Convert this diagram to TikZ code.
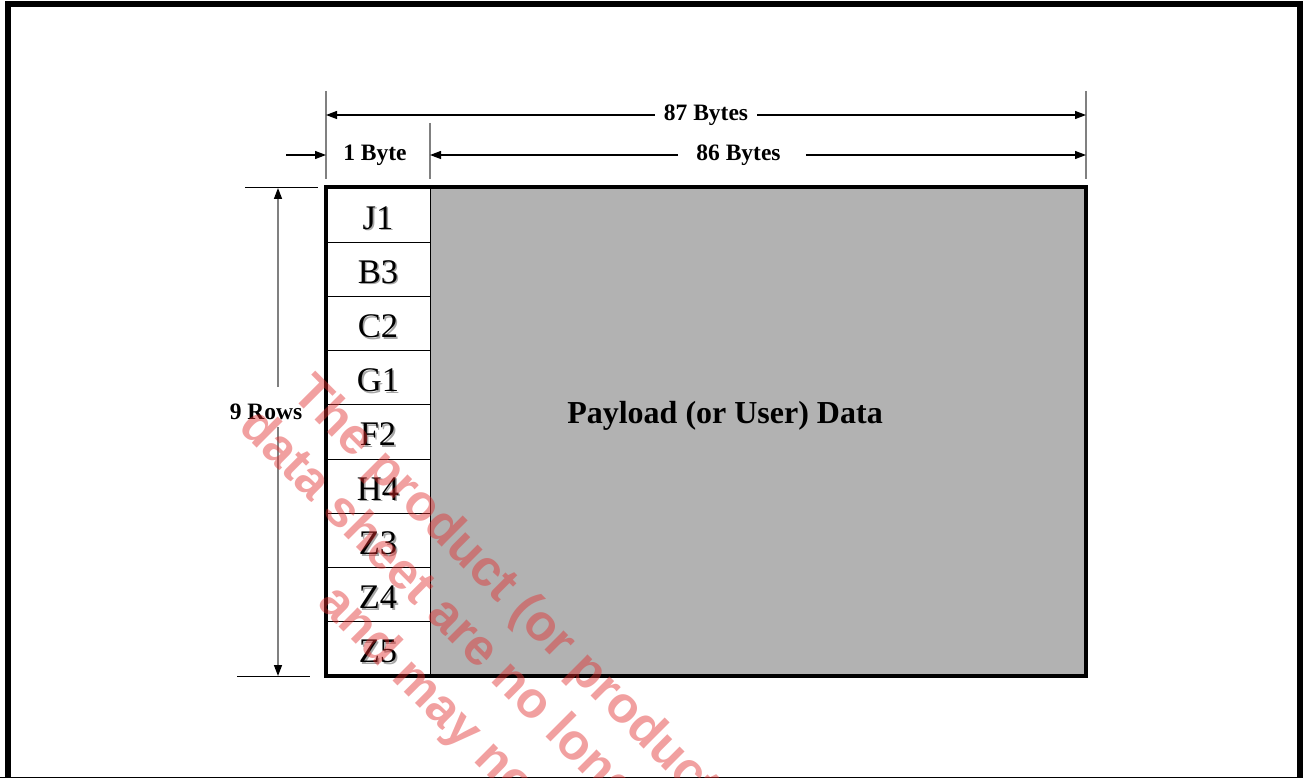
\documentclass[tikz,border=0pt]{standalone}
\usepackage{fontspec}
\setmainfont{Liberation Serif}
\newfontfamily\wmfont{Liberation Sans}
\usetikzlibrary{arrows.meta}
\definecolor{payloadgray}{RGB}{178,178,178}
\definecolor{extgray}{RGB}{128,128,128}
\definecolor{wmred}{RGB}{225,45,45}
\newcommand\shadowtxt[1]{\makebox[0pt][l]{\hspace*{1.6pt}\raisebox{-1.6pt}{\color{black!35}#1}}#1}
\begin{document}
\begin{tikzpicture}[x=1pt,y=-1pt,
  dimarrow/.style={line width=1.2pt,-{Triangle[length=11pt,width=8pt]}},
  vdimarrow/.style={extgray,line width=1.5pt,-{Triangle[length=11pt,width=8pt,color=black]}},
  extline/.style={extgray,line width=1.5pt},
  tickline/.style={black,line width=1pt},
  dimlab/.style={font=\bfseries\fontsize{23.5}{24}\selectfont,inner ysep=0pt},
  rowcell/.style={draw=black,line width=1pt,minimum width=104pt,minimum height=54.22pt,inner sep=0pt,
    text height=28pt,text depth=0pt,font=\fontsize{34.5}{34}\selectfont},
  wm/.style={font=\wmfont\bfseries\fontsize{51}{51}\selectfont,text=wmred,text opacity=0.45,
    rotate=-45,anchor=base west,inner sep=0pt}
]
\useasboundingbox (0,0) rectangle (1303,778);
% outer frame
\draw[line width=6pt] (8,778) -- (8,4) -- (1300,4) -- (1300,778);
\draw[line width=1pt] (0,777.5) -- (1303,777.5);

% payload area
\node[fill=payloadgray,minimum width=656pt,minimum height=488pt,inner sep=0pt] (payload) at (758,432) {};
\node[font=\bfseries\fontsize{32}{32}\selectfont,anchor=base] (ptext) at (725,423) {Payload (or User) Data};

% overhead column
\foreach \lab [count=\i] in {J1,B3,C2,G1,F2,H4,Z3,Z4,Z5}{
  \node[rowcell] (r\i) at (378,{188+54.22*(\i-0.5)}) {\shadowtxt{\lab}};
}
\draw[line width=4pt] (r1.north west) rectangle (payload.south east);

% extension lines
\coordinate (e1t) at (326,91);  \coordinate (e1b) at (326,179);
\coordinate (e2t) at (430,123); \coordinate (e2b) at (430,179);
\coordinate (e3t) at (1086,91); \coordinate (e3b) at (1086,179);
\draw[extline] (e1t) -- (e1b);
\draw[extline] (e2t) -- (e2b);
\draw[extline] (e3t) -- (e3b);

% 87 Bytes
\node[dimlab,inner xsep=9pt] (b87) at (706,115) {87 Bytes};
\draw[dimarrow] (b87.west) -- (e1t |- b87.west);
\draw[dimarrow] (b87.east) -- (e3t |- b87.east);

% 86 Bytes
\node[dimlab,inner xsep=0pt] (b86) at (738.5,155) {86 Bytes};
\draw[dimarrow] ([xshift=-18pt]b86.west) -- (e2t |- b86.west);
\draw[dimarrow] ([xshift=25pt]b86.east) -- (e3t |- b86.east);

% 1 Byte
\node[dimlab,inner xsep=0pt] (b1) at (375,155) {1 Byte};
\coordinate (b1s) at (286,155);
\draw[dimarrow] (b1s) -- (e1b |- b1s);

% 9 Rows
\node[dimlab,inner xsep=0pt,anchor=base] (rows) at (266,419) {9 Rows};
\coordinate (t9a) at (245,188); \coordinate (t9b) at (318,188);
\coordinate (t9c) at (237,676); \coordinate (t9d) at (310,676);
\draw[tickline] (t9a) -- (t9b);
\draw[tickline] (t9c) -- (t9d);
\coordinate (g9a) at (278,387); \coordinate (g9b) at (278,427);
\draw[vdimarrow] (g9a) -- (g9a |- t9a);
\draw[vdimarrow] (g9b) -- (g9b |- t9c);

% watermark
\begin{scope}
\clip (0,0) rectangle (1303,777);
\node[wm] (wm1) at (290,395) {The product (or product};
\node[wm] (wm2) at (237,428) {data sheet are no longer};
\node[wm] (wm3) at (316,604) {and may no};
\end{scope}
\end{tikzpicture}
\end{document}
